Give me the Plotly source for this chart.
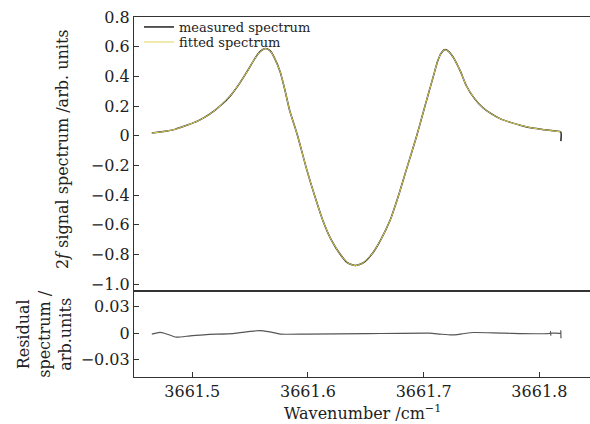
import plotly.graph_objects as go

# ---- data ----
wavenumber = [3661.465, 3661.475, 3661.485, 3661.495, 3661.505, 3661.515, 3661.525,
              3661.533, 3661.541, 3661.548, 3661.554, 3661.559, 3661.563, 3661.567,
              3661.571, 3661.576, 3661.580, 3661.584, 3661.591, 3661.599, 3661.606,
              3661.613, 3661.620, 3661.628, 3661.634, 3661.641, 3661.648, 3661.656,
              3661.663, 3661.671, 3661.678, 3661.685, 3661.694, 3661.699, 3661.704,
              3661.708, 3661.712, 3661.715, 3661.718, 3661.722, 3661.727, 3661.732,
              3661.737, 3661.744, 3661.751, 3661.758, 3661.766, 3661.775, 3661.785,
              3661.794, 3661.805, 3661.812, 3661.8185]
fitted = [0.018, 0.028, 0.043, 0.070, 0.100, 0.145, 0.207,
          0.270, 0.355, 0.440, 0.520, 0.570, 0.588, 0.575,
          0.525, 0.430, 0.310, 0.175, 0.0, -0.230, -0.410,
          -0.575, -0.700, -0.800, -0.855, -0.875, -0.855, -0.790,
          -0.700, -0.570, -0.410, -0.230, 0.0, 0.140, 0.280,
          0.390, 0.500, 0.555, 0.580, 0.565, 0.510, 0.430,
          0.335, 0.250, 0.190, 0.150, 0.115, 0.090, 0.068,
          0.052, 0.040, 0.033, 0.026]
measured_x = wavenumber + [3661.8186]
measured = fitted + [-0.036]

resid_x = [3661.465, 3661.472, 3661.476, 3661.486, 3661.498, 3661.512, 3661.535,
           3661.550, 3661.558, 3661.567, 3661.576, 3661.599, 3661.650, 3661.705,
           3661.714, 3661.724, 3661.733, 3661.743, 3661.770, 3661.8095, 3661.8097,
           3661.8099, 3661.8101, 3661.8185, 3661.8186, 3661.8187]
resid_y = [-0.001, 0.001, 0.0, -0.0045, -0.003, -0.0015, -0.0005,
           0.002, 0.003, 0.0015, -0.001, -0.001, -0.0005, 0.0,
           -0.001, -0.002, -0.0008, 0.0008, 0.0, 0.0, 0.002,
           -0.0025, 0.0, 0.0, 0.003, -0.0057]

top_ticks = [0.8, 0.6, 0.4, 0.2, 0, -0.2, -0.4, -0.6, -0.8, -1.0]
top_ticktext = ["0.8", "0.6", "0.4", "0.2", "0", "\u22120.2", "\u22120.4", "\u22120.6", "\u22120.8", "\u22121.0"]
res_ticks = [0.03, 0, -0.03]
res_ticktext = ["0.03", "0", "\u22120.03"]
x_ticks = [3661.5, 3661.6, 3661.7, 3661.8]
x_ticktext = ["3661.5", "3661.6", "3661.7", "3661.8"]

FONT = "DejaVu Serif"
AX = "#333333"
split = 0.2389

fig = go.Figure()
fig.add_trace(go.Scatter(x=measured_x, y=measured, mode="lines", name="measured spectrum",
                         line=dict(color="#222222", width=1.5, shape="spline", smoothing=0.6),
                         xaxis="x", yaxis="y", legend="legend"))
fig.add_trace(go.Scatter(x=wavenumber, y=fitted, mode="lines", name="fitted spectrum",
                         line=dict(color="#e2d45a", width=1.0, shape="spline", smoothing=0.6),
                         xaxis="x", yaxis="y", legend="legend2"))
fig.add_trace(go.Scatter(x=resid_x, y=resid_y, mode="lines", showlegend=False,
                         line=dict(color="#555555", width=1.2, shape="spline", smoothing=0.5),
                         xaxis="x2", yaxis="y2"))

xr = [3661.4496, 3661.8438]
leg_common = dict(xanchor="left", yanchor="top", bgcolor="rgba(0,0,0,0)",
                  font=dict(family=FONT, size=13, color="#222222"), itemwidth=30)
fig.update_layout(
    width=590, height=424,
    margin=dict(l=134, r=0, t=17, b=47),
    paper_bgcolor="white", plot_bgcolor="white",
    font=dict(family=FONT, size=16, color="#222222"),
    showlegend=True,
    legend=dict(x=0.011, y=1.0139, **leg_common),
    legend2=dict(x=0.011, y=0.972, **leg_common),
    xaxis=dict(domain=[0, 1], anchor="y", range=xr, showticklabels=False, ticks="",
               showline=True, linecolor=AX, linewidth=1.2, mirror=True,
               showgrid=False, zeroline=False, automargin=False),
    yaxis=dict(domain=[split, 1], anchor="x", range=[-1.046, 0.8],
               tickvals=top_ticks, ticktext=top_ticktext,
               ticks="inside", ticklen=5, tickcolor=AX,
               showline=True, linecolor=AX, linewidth=1.2,
               showgrid=False, zeroline=False, automargin=False),
    xaxis2=dict(domain=[0, 1], anchor="y2", range=xr,
                tickvals=x_ticks, ticktext=x_ticktext,
                ticks="inside", ticklen=5, tickcolor=AX,
                showline=True, linecolor=AX, linewidth=1.2, mirror=True,
                showgrid=False, zeroline=False, automargin=False),
    yaxis2=dict(domain=[0, split], anchor="x2", range=[-0.0498, 0.048],
                tickvals=res_ticks, ticktext=res_ticktext,
                ticks="inside", ticklen=5, tickcolor=AX,
                showline=True, linecolor=AX, linewidth=1.2,
                showgrid=False, zeroline=False, automargin=False),
)

fig.add_annotation(text="2<i>f</i> signal spectrum /arb. units", textangle=-90,
                   xref="paper", yref="paper", x=0, y=0.633, xshift=-72,
                   xanchor="center", yanchor="middle", showarrow=False,
                   font=dict(family=FONT, size=16, color="#222222"))
fig.add_annotation(text="Residual<br>spectrum /<br>arb.units", textangle=-90,
                   xref="paper", yref="paper", x=0, y=0.12, xshift=-89,
                   xanchor="center", yanchor="middle", showarrow=False, align="center",
                   font=dict(family=FONT, size=16, color="#222222"))
fig.add_annotation(text="Wavenumber /cm<sup>\u22121</sup>",
                   xref="paper", yref="paper", x=0.5, y=0, yshift=-35,
                   xanchor="center", yanchor="middle", showarrow=False,
                   font=dict(family=FONT, size=16, color="#222222"))

fig.write_html("out.html", config={"displayModeBar": False},
               post_script="document.body.style.margin='0px';")
